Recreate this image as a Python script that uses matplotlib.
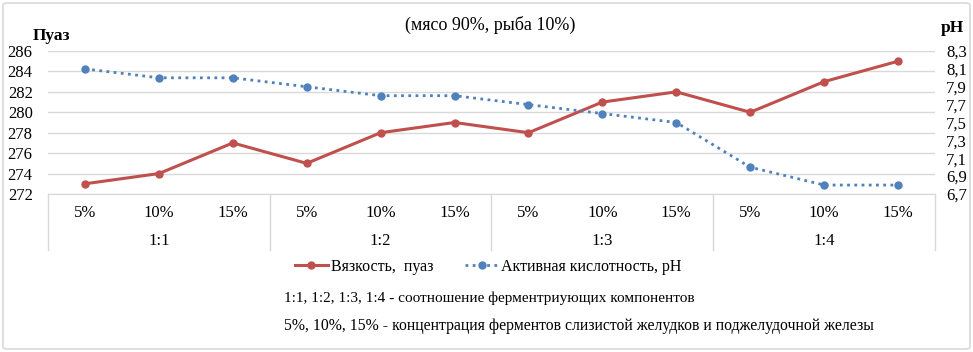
import matplotlib.pyplot as plt
from matplotlib.patches import FancyBboxPatch
from matplotlib.lines import Line2D
from matplotlib import transforms

plt.rcParams["font.family"] = ["Liberation Serif", "DejaVu Serif"]

concentrations = ["5%", "10%", "15%"] * 4
ratios = ["1:1", "1:2", "1:3", "1:4"]
viscosity = [273, 274, 277, 275, 278, 279, 278, 281, 282, 280, 283, 285]
ph = [8.1, 8.0, 8.0, 7.9, 7.8, 7.8, 7.7, 7.6, 7.5, 7.0, 6.8, 6.8]
left_ticks = [272, 274, 276, 278, 280, 282, 284, 286]
right_ticks = [6.7, 6.9, 7.1, 7.3, 7.5, 7.7, 7.9, 8.1, 8.3]

red = "#C0504D"
blue = "#4F81BD"
grid_c = "#D9D9D9"

W, H = 973, 352
fig = plt.figure(figsize=(W / 100, H / 100), dpi=100, facecolor="white")

# outer chart border
fig.patches.append(FancyBboxPatch((3 / W, 3 / H), 1 - 6 / W, 1 - 6 / H,
                                  boxstyle="round,pad=0,rounding_size=0.005",
                                  transform=fig.transFigure, fc="none",
                                  ec=grid_c, lw=1.2, zorder=-1))

ax = fig.add_axes([48 / W, 1 - 194 / H, (935 - 48) / W, (194 - 51) / H])
ax.set_facecolor("none")
x = list(range(len(viscosity)))

ax.plot(x, viscosity, color=red, lw=2.2, marker="o", ms=5, zorder=3)
ax.set_xlim(-0.5, len(x) - 0.5)
ax.set_ylim(left_ticks[0], left_ticks[-1])
ax.set_yticks(left_ticks)
ax.set_yticklabels([str(t) for t in left_ticks], fontsize=12)
ax.tick_params(axis="y", length=0, pad=11)
ax.yaxis.grid(True, color=grid_c, lw=1)
ax.set_axisbelow(True)
for s in ["top", "left", "right"]:
    ax.spines[s].set_visible(False)
ax.spines["bottom"].set_color(grid_c)
ax.set_xticks([])

ax2 = ax.twinx()
ax2.plot(x, ph, color=blue, lw=2, ls=(0, (1, 1.6)), marker="o", ms=5, zorder=3)
ax2.set_ylim(right_ticks[0], right_ticks[-1])
ax2.set_yticks(right_ticks)
ax2.set_yticklabels([f"{t:.1f}".replace(".", ",") for t in right_ticks], fontsize=12)
ax2.tick_params(axis="y", length=0, pad=8)
for s in ["top", "left", "right", "bottom"]:
    ax2.spines[s].set_visible(False)

# two-level category axis
tr = transforms.blended_transform_factory(ax.transData, ax.transAxes)
sep_depth = (250 - 194) / (194 - 51)
for i, lab in enumerate(concentrations):
    ax.text(i, -(213 - 194) / (194 - 51), lab, transform=tr, ha="center",
            va="center", fontsize=12)
for g, lab in enumerate(ratios):
    ax.text(g * 3 + 1, -(241 - 194) / (194 - 51), lab, transform=tr,
            ha="center", va="center", fontsize=12)
for b in range(len(ratios) + 1):
    ax.plot([b * 3 - 0.5] * 2, [0, -sep_depth], transform=tr, color=grid_c,
            lw=1, clip_on=False)

fig.text(490 / W, 1 - 25 / H, "(мясо 90%, рыба 10%)", ha="center",
         va="center", fontsize=13)
fig.text(51 / W, 1 - 36 / H, "Пуаз", ha="center", va="center", fontsize=12.5,
         fontweight="bold")
fig.text(952 / W, 1 - 28 / H, "pH", ha="center", va="center", fontsize=12.5,
         fontweight="bold")

handles = [
    Line2D([], [], color=red, lw=2.2, marker="o", ms=5),
    Line2D([], [], color=blue, lw=2, ls=(0, (1, 1.6)), marker="o", ms=5),
]
fig.legend(handles, ["Вязкость,  пуаз", "Активная кислотность, pH"],
           loc="center", bbox_to_anchor=(488 / W, 1 - 267 / H), ncol=2,
           frameon=False, fontsize=11.5, handlelength=2.1, columnspacing=2.0,
           handletextpad=0.15)

fig.text(284 / W, 1 - 298 / H,
         "1:1, 1:2, 1:3, 1:4 - соотношение ферментриующих компонентов",
         ha="left", va="center", fontsize=11)
fig.text(284 / W, 1 - 326 / H,
         "5%, 10%, 15% - концентрация ферментов слизистой желудков и поджелудочной железы",
         ha="left", va="center", fontsize=11.3)

fig.savefig("out.png", dpi=100)
